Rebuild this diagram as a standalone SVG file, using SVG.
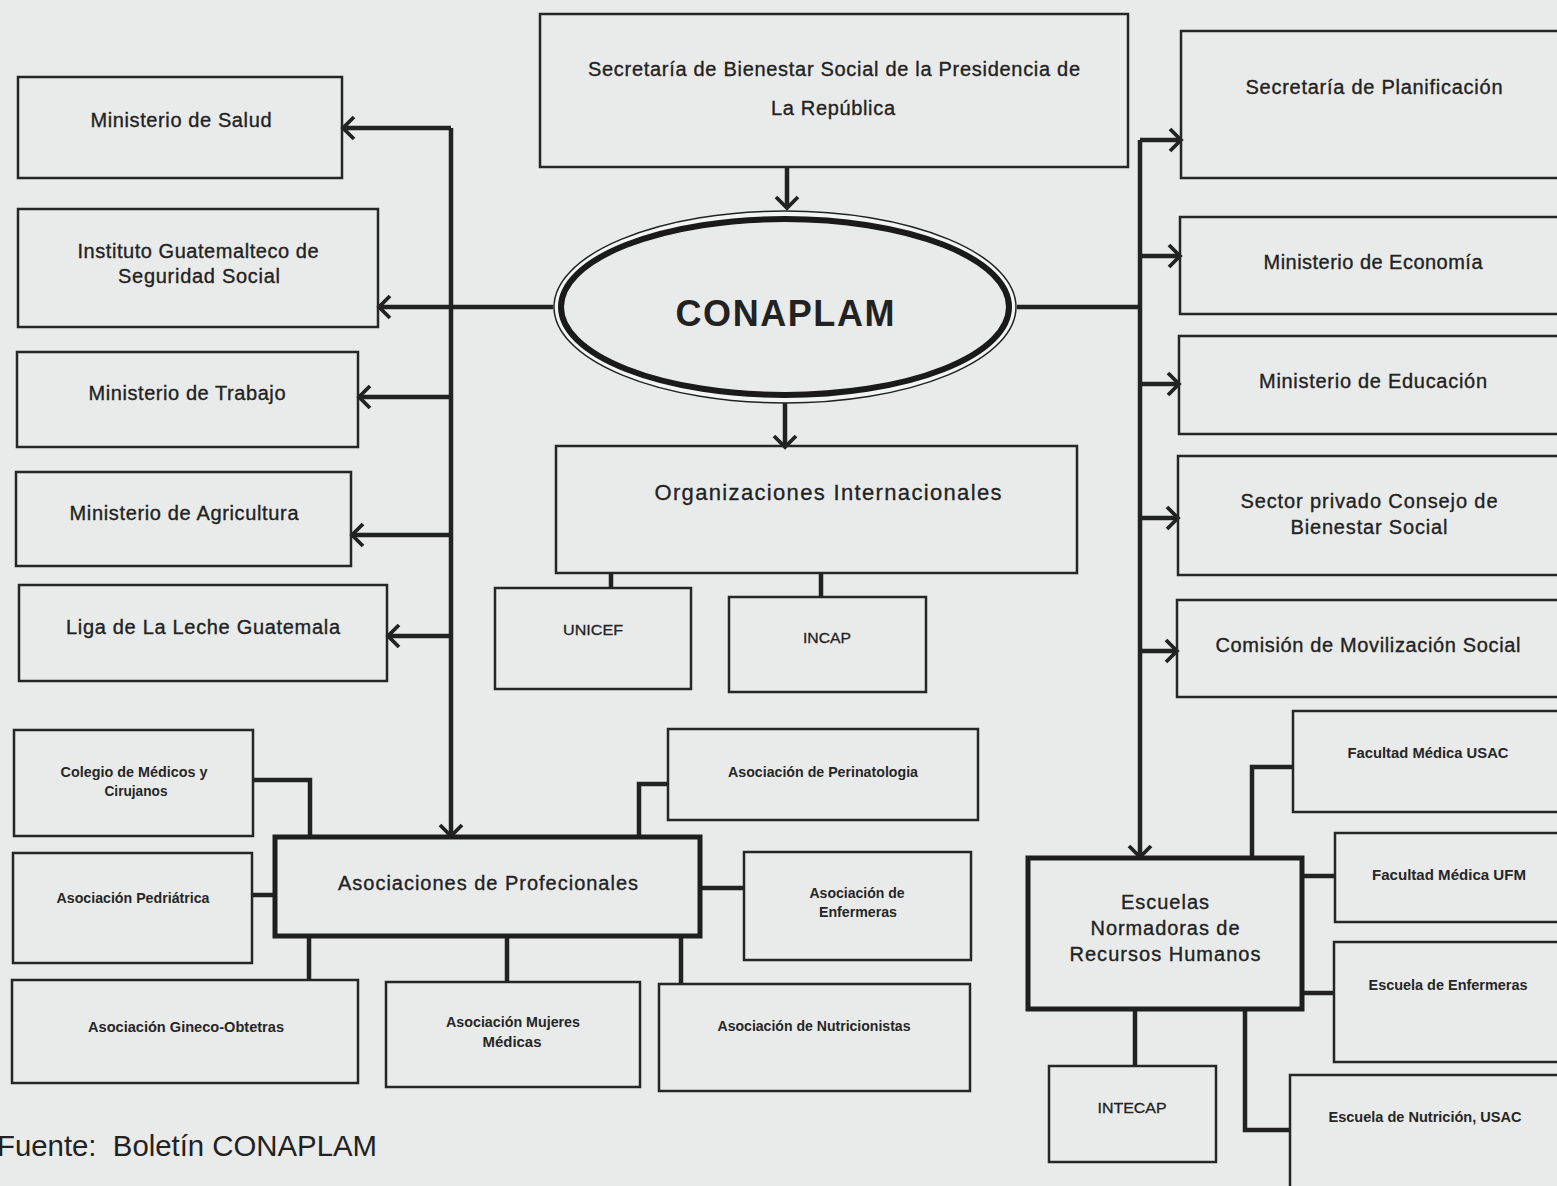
<svg xmlns="http://www.w3.org/2000/svg" width="1557" height="1186" viewBox="0 0 1557 1186">
<defs>
<style>
.bg{fill:#e9ebea}
.box{fill:none;stroke:#262626;stroke-width:2.5}
.tbox{fill:none;stroke:#1e1e1e;stroke-width:5}
.con{fill:none;stroke:#222;stroke-width:4.5;stroke-linejoin:miter}
.t{font-family:"Liberation Sans",Arial,sans-serif;fill:#222;text-anchor:middle}
.m{font-size:20px;stroke:#222;stroke-width:0.35}
.s{font-size:15px;font-weight:bold;fill:#262626}
.r{font-size:15px;font-weight:normal;stroke:#222;stroke-width:0.3}
.l{font-size:22px;stroke:#222;stroke-width:0.3}
</style>
<marker id="arr" viewBox="0 0 18 26" refX="15" refY="13" markerWidth="18" markerHeight="26" markerUnits="userSpaceOnUse" orient="auto">
<path d="M4,2 L15,13 L4,24" fill="none" stroke="#222" stroke-width="3.8"/>
</marker>
</defs>
<rect class="bg" x="0" y="0" width="1557" height="1186"/>

<g id="connectors">
<path class="con" d="M787,167 V208" marker-end="url(#arr)"/>
<path class="con" d="M785,396 V447" marker-end="url(#arr)"/>
<path class="con" d="M611,573 V588"/>
<path class="con" d="M821,573 V597"/>
<path class="con" d="M553,307 H379" marker-end="url(#arr)"/>
<path class="con" d="M451,128 V836" marker-end="url(#arr)"/>
<path class="con" d="M451,128 H343" marker-end="url(#arr)"/>
<path class="con" d="M451,397 H359" marker-end="url(#arr)"/>
<path class="con" d="M451,535 H352" marker-end="url(#arr)"/>
<path class="con" d="M451,636 H388" marker-end="url(#arr)"/>
<path class="con" d="M1017,307 H1141"/>
<path class="con" d="M1140,140 V857" marker-end="url(#arr)"/>
<path class="con" d="M1140,140 H1181" marker-end="url(#arr)"/>
<path class="con" d="M1140,256 H1180" marker-end="url(#arr)"/>
<path class="con" d="M1140,384 H1179" marker-end="url(#arr)"/>
<path class="con" d="M1140,518 H1178" marker-end="url(#arr)"/>
<path class="con" d="M1140,651 H1177" marker-end="url(#arr)"/>
<path class="con" d="M253,780 H310 V836"/>
<path class="con" d="M252,895 H275"/>
<path class="con" d="M309,936 V980"/>
<path class="con" d="M507,936 V982"/>
<path class="con" d="M681,936 V984"/>
<path class="con" d="M700,888 H744"/>
<path class="con" d="M639,836 V784 H668"/>
<path class="con" d="M1252,857 V767 H1293"/>
<path class="con" d="M1302,876 H1335"/>
<path class="con" d="M1302,993 H1334"/>
<path class="con" d="M1245,1009 V1130 H1290"/>
<path class="con" d="M1135,1009 V1066"/>
</g>

<g id="secretaria-bienestar">
<rect class="box" x="540" y="14" width="588" height="153"/>
<text class="t m" x="834" y="76" textLength="492" lengthAdjust="spacing">Secretaría de Bienestar Social de la Presidencia de</text>
<text class="t m" x="833" y="115" textLength="124" lengthAdjust="spacing">La República</text>
</g>

<g id="conaplam">
<ellipse cx="785" cy="307" rx="231" ry="96" fill="#f3f4f4" stroke="#222" stroke-width="1.5"/>
<ellipse cx="785" cy="307" rx="224" ry="88" fill="#e9ebea" stroke="#1a1a1a" stroke-width="6"/>
<text class="t" x="785" y="326" font-size="36" font-weight="bold" textLength="219" lengthAdjust="spacing">CONAPLAM</text>
</g>

<g id="organizaciones">
<rect class="box" x="556" y="446" width="521" height="127"/>
<text class="t l" x="828" y="500" textLength="347" lengthAdjust="spacing">Organizaciones Internacionales</text>
</g>
<g id="unicef">
<rect class="box" x="495" y="588" width="196" height="101"/>
<text class="t r" x="593" y="635" textLength="60" lengthAdjust="spacingAndGlyphs">UNICEF</text>
</g>
<g id="incap">
<rect class="box" x="729" y="597" width="197" height="95"/>
<text class="t r" x="827" y="643" textLength="48" lengthAdjust="spacingAndGlyphs">INCAP</text>
</g>

<g id="min-salud">
<rect class="box" x="18" y="77" width="324" height="101"/>
<text class="t m" x="181" y="127" textLength="181" lengthAdjust="spacing">Ministerio de Salud</text>
</g>
<g id="igss">
<rect class="box" x="18" y="209" width="360" height="118"/>
<text class="t m" x="198" y="258" textLength="241" lengthAdjust="spacing">Instituto Guatemalteco de</text>
<text class="t m" x="199" y="283" textLength="162" lengthAdjust="spacing">Seguridad Social</text>
</g>
<g id="min-trabajo">
<rect class="box" x="17" y="352" width="341" height="95"/>
<text class="t m" x="187" y="400" textLength="197" lengthAdjust="spacing">Ministerio de Trabajo</text>
</g>
<g id="min-agricultura">
<rect class="box" x="16" y="472" width="335" height="94"/>
<text class="t m" x="184" y="520" textLength="229" lengthAdjust="spacing">Ministerio de Agricultura</text>
</g>
<g id="liga-leche">
<rect class="box" x="19" y="585" width="368" height="96"/>
<text class="t m" x="203" y="634" textLength="274" lengthAdjust="spacing">Liga de La Leche Guatemala</text>
</g>

<g id="sec-planificacion">
<rect class="box" x="1181" y="31" width="390" height="147"/>
<text class="t m" x="1374" y="94" textLength="257" lengthAdjust="spacing">Secretaría de Planificación</text>
</g>
<g id="min-economia">
<rect class="box" x="1180" y="217" width="390" height="97"/>
<text class="t m" x="1373" y="269" textLength="219" lengthAdjust="spacing">Ministerio de Economía</text>
</g>
<g id="min-educacion">
<rect class="box" x="1179" y="336" width="390" height="98"/>
<text class="t m" x="1373" y="388" textLength="228" lengthAdjust="spacing">Ministerio de Educación</text>
</g>
<g id="sector-privado">
<rect class="box" x="1178" y="456" width="390" height="119"/>
<text class="t m" x="1369" y="508" textLength="257" lengthAdjust="spacing">Sector privado Consejo de</text>
<text class="t m" x="1369" y="534" textLength="157" lengthAdjust="spacing">Bienestar Social</text>
</g>
<g id="comision">
<rect class="box" x="1177" y="600" width="390" height="97"/>
<text class="t m" x="1368" y="652" textLength="305" lengthAdjust="spacing">Comisión de Movilización Social</text>
</g>

<g id="asociaciones">
<rect class="tbox" x="275" y="837" width="425" height="99"/>
<text class="t m" x="488" y="890" font-size="21" textLength="300" lengthAdjust="spacing">Asociaciones de Profecionales</text>
</g>
<g id="colegio-medicos">
<rect class="box" x="14" y="730" width="239" height="106"/>
<text class="t s" x="134" y="777" textLength="147" lengthAdjust="spacingAndGlyphs">Colegio de Médicos y</text>
<text class="t s" x="136" y="796" textLength="63" lengthAdjust="spacingAndGlyphs">Cirujanos</text>
</g>
<g id="pediatrica">
<rect class="box" x="13" y="853" width="239" height="110"/>
<text class="t s" x="133" y="903" textLength="153" lengthAdjust="spacingAndGlyphs">Asociación Pedriátrica</text>
</g>
<g id="gineco">
<rect class="box" x="12" y="980" width="346" height="103"/>
<text class="t s" x="186" y="1032" textLength="196" lengthAdjust="spacingAndGlyphs">Asociación Gineco-Obtetras</text>
</g>
<g id="mujeres-medicas">
<rect class="box" x="386" y="982" width="254" height="105"/>
<text class="t s" x="513" y="1027" textLength="134" lengthAdjust="spacingAndGlyphs">Asociación Mujeres</text>
<text class="t s" x="512" y="1047" textLength="59" lengthAdjust="spacingAndGlyphs">Médicas</text>
</g>
<g id="nutricionistas">
<rect class="box" x="659" y="984" width="311" height="107"/>
<text class="t s" x="814" y="1031" textLength="193" lengthAdjust="spacingAndGlyphs">Asociación de Nutricionistas</text>
</g>
<g id="enfermeras">
<rect class="box" x="744" y="852" width="227" height="108"/>
<text class="t s" x="857" y="898" textLength="95" lengthAdjust="spacingAndGlyphs">Asociación de</text>
<text class="t s" x="858" y="917" textLength="78" lengthAdjust="spacingAndGlyphs">Enfermeras</text>
</g>
<g id="perinatologia">
<rect class="box" x="668" y="729" width="310" height="91"/>
<text class="t s" x="823" y="777" textLength="190" lengthAdjust="spacingAndGlyphs">Asociación de Perinatologia</text>
</g>

<g id="escuelas">
<rect class="tbox" x="1028" y="858" width="274" height="151"/>
<text class="t m" x="1165" y="909" font-size="21" textLength="88" lengthAdjust="spacing">Escuelas</text>
<text class="t m" x="1165" y="935" font-size="21" textLength="149" lengthAdjust="spacing">Normadoras de</text>
<text class="t m" x="1165" y="961" font-size="21" textLength="191" lengthAdjust="spacing">Recursos Humanos</text>
</g>
<g id="fac-usac">
<rect class="box" x="1293" y="711" width="280" height="101"/>
<text class="t s" x="1428" y="758" textLength="161" lengthAdjust="spacingAndGlyphs">Facultad Médica USAC</text>
</g>
<g id="fac-ufm">
<rect class="box" x="1335" y="833" width="240" height="89"/>
<text class="t s" x="1449" y="880" textLength="154" lengthAdjust="spacingAndGlyphs">Facultad Médica UFM</text>
</g>
<g id="esc-enfermeras">
<rect class="box" x="1334" y="942" width="240" height="120"/>
<text class="t s" x="1448" y="990" textLength="159" lengthAdjust="spacingAndGlyphs">Escuela de Enfermeras</text>
</g>
<g id="esc-nutricion">
<rect class="box" x="1290" y="1075" width="285" height="130"/>
<text class="t s" x="1425" y="1122" textLength="193" lengthAdjust="spacingAndGlyphs">Escuela de Nutrición, USAC</text>
</g>
<g id="intecap">
<rect class="box" x="1049" y="1066" width="167" height="96"/>
<text class="t r" x="1132" y="1113" textLength="69" lengthAdjust="spacingAndGlyphs">INTECAP</text>
</g>

<text x="-3" y="1156" font-family="'Liberation Sans',Arial,sans-serif" font-size="30" fill="#222" textLength="380" lengthAdjust="spacingAndGlyphs">Fuente:&#160; Boletín CONAPLAM</text>
</svg>
